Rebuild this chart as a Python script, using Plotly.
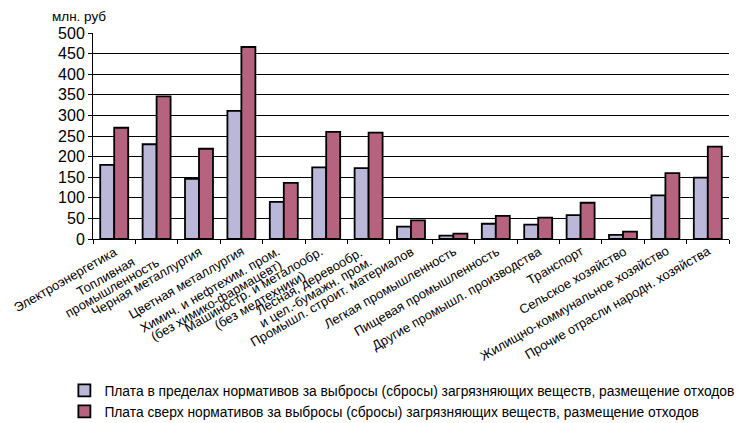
import plotly.graph_objects as go

categories = [
    "Электроэнергетика",
    "Топливная промышленность",
    "Черная металлургия",
    "Цветная металлургия",
    "Химич. и нефтехим. пром. (без химико-фармацевт)",
    "Машиностр. и металообр. (без медтехники)",
    "Лесная, деревообр. и цел.-бумажн. пром.",
    "Промышл. строит. материалов",
    "Легкая промышленность",
    "Пищевая промышленность",
    "Другие промышл. производства",
    "Транспорт",
    "Сельское хозяйство",
    "Жилищно-коммунальное хозяйство",
    "Прочие отрасли народн. хозяйства",
]
tick_labels = [
    ["Электроэнергетика"],
    ["Топливная", "промышленность"],
    ["Черная металлургия"],
    ["Цветная металлургия"],
    ["Химич. и нефтехим. пром.", "(без химико-фармацевт)"],
    ["Машиностр. и металообр.", "(без медтехники)"],
    ["Лесная, деревообр.", "и цел.-бумажн. пром."],
    ["Промышл. строит. материалов"],
    ["Легкая промышленность"],
    ["Пищевая промышленность"],
    ["Другие промышл. производства"],
    ["Транспорт"],
    ["Сельское хозяйство"],
    ["Жилищно-коммунальное хозяйство"],
    ["Прочие отрасли народн. хозяйства"],
]
within_norm = [180, 230, 146, 311, 90, 174, 172, 30, 8, 37, 35, 58, 10, 106, 149]
above_norm = [270, 346, 219, 466, 136, 260, 258, 45, 13, 56, 52, 88, 18, 160, 224]
series_names = [
    "Плата в пределах нормативов за выбросы (сбросы) загрязняющих веществ, размещение отходов",
    "Плата сверх нормативов за выбросы (сбросы) загрязняющих веществ, размещение отходов",
]
y_ticks = [0, 50, 100, 150, 200, 250, 300, 350, 400, 450, 500]

fig = go.Figure()
fig.add_trace(go.Bar(x=categories, y=within_norm, name=series_names[0],
                     marker=dict(color="#BAB7D8", line=dict(color="black", width=1.8))))
fig.add_trace(go.Bar(x=categories, y=above_norm, name=series_names[1],
                     marker=dict(color="#B5637F", line=dict(color="black", width=1.8))))

annotations = [dict(text="млн. руб", xref="paper", yref="paper", x=-0.067, y=1.078,
                    xanchor="left", yanchor="middle", showarrow=False,
                    font=dict(size=13.5))]
for i, lines in enumerate(tick_labels):
    text = "<br>".join('<span style="font-size:13px">%s</span>' % ln for ln in lines)
    annotations.append(dict(
        x=i, y=0, xref="x", yref="y", text=text, showarrow=False,
        textangle=-30, xanchor="right", yanchor="top", align="center",
        xshift=7, yshift=-3, borderpad=0, font=dict(size=9.8)))

fig.update_layout(
    width=740, height=423,
    margin=dict(l=93, r=11, t=33, b=184, autoexpand=False),
    paper_bgcolor="white", plot_bgcolor="white",
    font=dict(family="Liberation Sans, Arial, sans-serif", size=13, color="black"),
    barmode="group", bargap=0.34, bargroupgap=0,
    showlegend=True,
    legend=dict(orientation="v", x=-0.045, xanchor="left", y=-0.66, yanchor="top",
                font=dict(size=13.8), tracegroupgap=0, itemwidth=30),
    xaxis=dict(showticklabels=False, tickson="boundaries", ticks="outside", ticklen=4,
               tickcolor="black", showline=True, linecolor="black", linewidth=1,
               showgrid=False, automargin=False, range=[-0.5, len(categories) - 0.5],
               autorange=False),
    yaxis=dict(range=[0, 500], tickvals=y_ticks, ticks="outside", ticklen=4,
               tickcolor="black", showline=True, linecolor="black", linewidth=1,
               showgrid=True, gridcolor="black", gridwidth=1, zeroline=False,
               automargin=False, tickfont=dict(size=16), autorange=False),
    annotations=annotations,
)

fig.write_html("out.html", config={"displayModeBar": False},
               post_script="document.body.style.margin='0';document.body.style.overflow='hidden';")
